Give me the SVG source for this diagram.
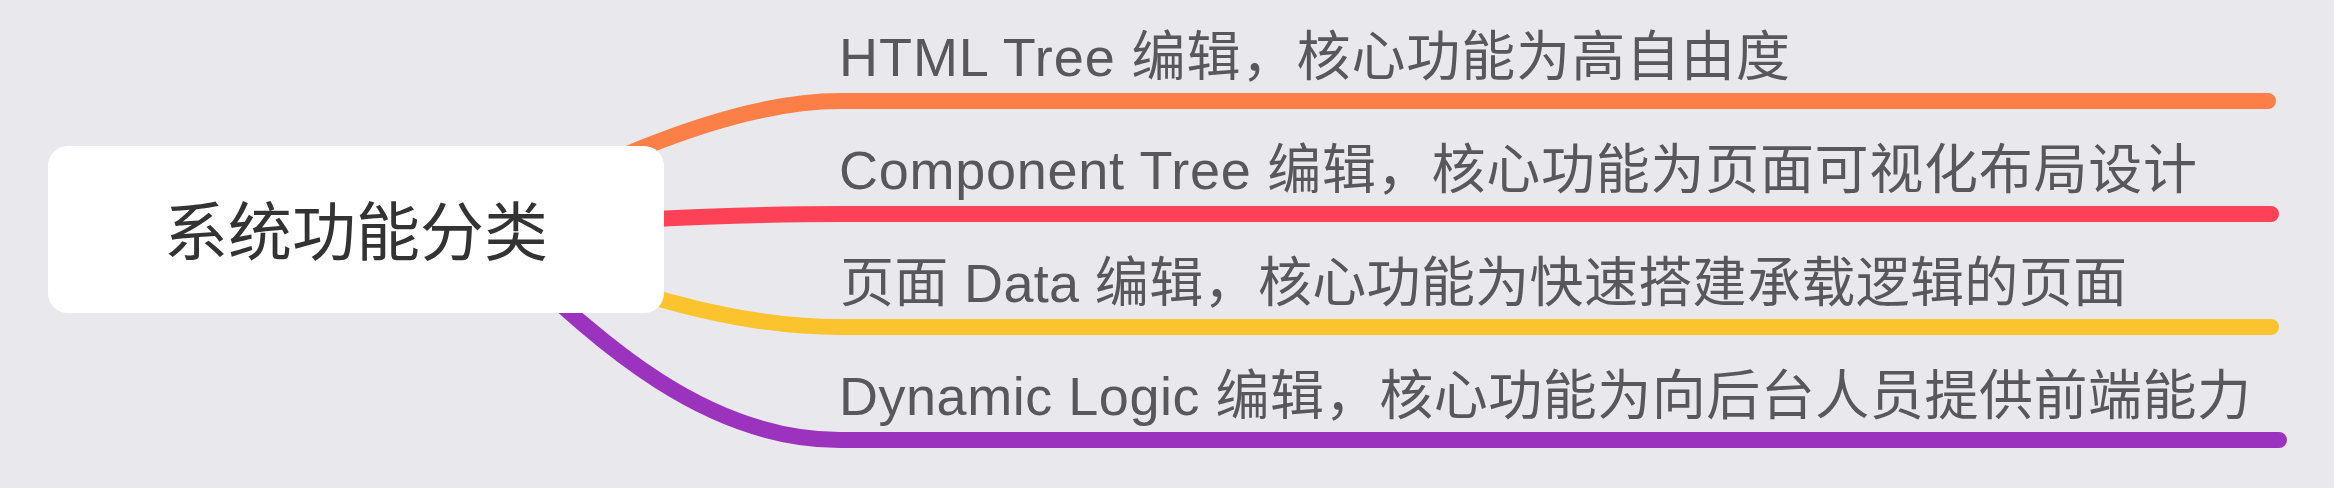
<svg xmlns="http://www.w3.org/2000/svg" width="2334" height="488" viewBox="0 0 2334 488">
<style>
.bg{fill:#E9E8ED}
.conn{fill:none;stroke-width:16;stroke-linecap:round;stroke-linejoin:round}
.root-box{fill:#FFFFFF}
.root-text{font-family:"Liberation Sans","Noto Sans CJK SC",sans-serif;font-size:64px;fill:#333333}
.branch-text{font-family:"Liberation Sans","Noto Sans CJK SC",sans-serif;font-size:54px;fill:#58575C}
</style>
<rect class="bg" x="0" y="0" width="2334" height="488"/>
<g id="connectors">
<path class="conn" stroke="#FD7F48" d="M480,230 C560,180 720,101 840,101 L2268,101"/>
<path class="conn" stroke="#FD4257" d="M480,230 C560,224 700,214 840,214 L2271,214"/>
<path class="conn" stroke="#FBC42F" d="M480,230 C560,267 700,327 840,327 L2271,327"/>
<path class="conn" stroke="#9C33BE" d="M480,230 C560,300 680,440 840,440 L2279,440"/>
</g>
<g id="root">
<rect class="root-box" x="48" y="146" width="616" height="167" rx="20" ry="20"/>
<text class="root-text" x="356" y="255" text-anchor="middle">系统功能分类</text>
</g>
<g id="branch-html">
<text class="branch-text" x="839" y="76" textLength="951" lengthAdjust="spacing">HTML Tree 编辑，核心功能为高自由度</text>
</g>
<g id="branch-component">
<text class="branch-text" x="839" y="189" textLength="1358" lengthAdjust="spacing">Component Tree 编辑，核心功能为页面可视化布局设计</text>
</g>
<g id="branch-data">
<text class="branch-text" x="840" y="302" textLength="1287" lengthAdjust="spacing">页面 Data 编辑，核心功能为快速搭建承载逻辑的页面</text>
</g>
<g id="branch-logic">
<text class="branch-text" x="839" y="415" textLength="1412" lengthAdjust="spacing">Dynamic Logic 编辑，核心功能为向后台人员提供前端能力</text>
</g>
</svg>
